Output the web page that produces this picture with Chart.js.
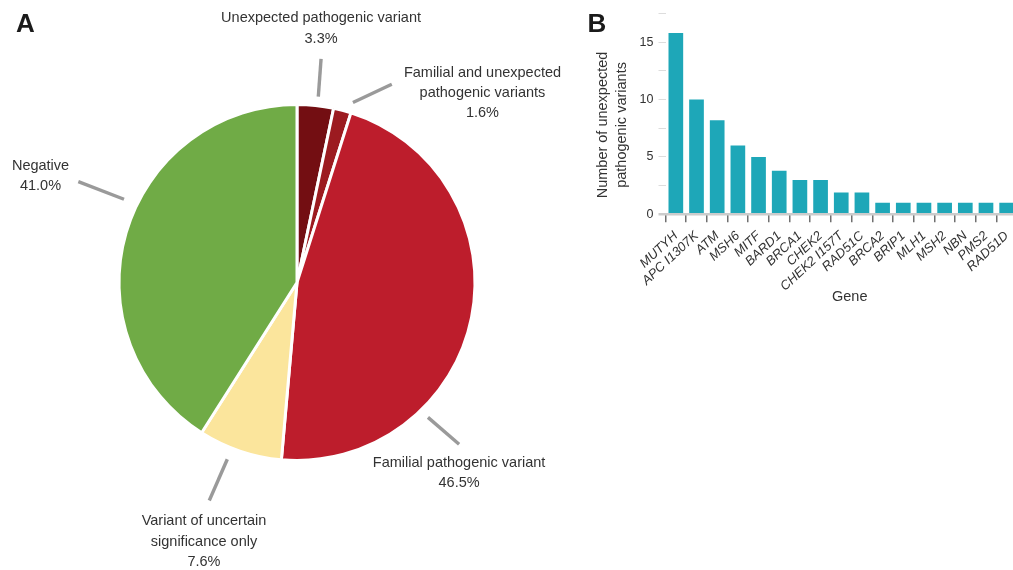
<!DOCTYPE html>
<html>
<head>
<meta charset="utf-8">
<script src="https://cdn.jsdelivr.net/npm/chart.js@4.4.1/dist/chart.umd.min.js"></script>
<style>
  html, body { margin: 0; padding: 0; background: #fff; overflow: hidden; width: 1013px; height: 570px; }
  .panel-letter { position: absolute; font: bold 26px 'Liberation Sans', Arial, sans-serif; color: #1a1a1a; line-height: 1; }
  #pieBox { position: absolute; left: 0; top: 0; width: 594px; height: 570px; }
  #barBox { position: absolute; left: 580px; top: 0; width: 450px; height: 320px; }
</style>
</head>
<body>
<div id="pieBox"><canvas id="pie"></canvas></div>
<div id="barBox"><canvas id="bar"></canvas></div>
<div class="panel-letter" style="left:16px;top:9.5px">A</div>
<div class="panel-letter" style="left:587.5px;top:9.5px">B</div>
<script>
// ---- Panel A: outcome categories (percent of cases) ----
const outcomeNames = [
  'Unexpected pathogenic variant',
  'Familial and unexpected pathogenic variants',
  'Familial pathogenic variant',
  'Variant of uncertain significance only',
  'Negative'
];
const outcomePercent = [3.3, 1.6, 46.5, 7.6, 41.0];
const outcomeLabelLines = [
  ['Unexpected pathogenic variant'],
  ['Familial and unexpected', 'pathogenic variants'],
  ['Familial pathogenic variant'],
  ['Variant of uncertain', 'significance only'],
  ['Negative']
];
const outcomeColors = ['#730e12', '#9c1b20', '#bd1d2c', '#fbe59c', '#70ab46'];

// ---- Panel B: unexpected pathogenic variants per gene ----
const genes = ['MUTYH', 'APC I1307K', 'ATM', 'MSH6', 'MITF', 'BARD1', 'BRCA1', 'CHEK2',
  'CHEK2 I157T', 'RAD51C', 'BRCA2', 'BRIP1', 'MLH1', 'MSH2', 'NBN', 'PMS2', 'RAD51D'];
const geneCounts = [15.8, 10, 8.2, 6, 5, 3.8, 3, 3, 1.9, 1.9, 1, 1, 1, 1, 1, 1, 1];
const yTicksLabelled = [0, 5, 10, 15];
const yTitleLines = ['Number of unexpected', 'pathogenic variants'];
const xTitle = 'Gene';

const FONT = "'Liberation Sans', Arial, Helvetica, sans-serif";
const TEXT = '#333333';

// Callout placement per slice: leader angle shift from the slice middle (deg),
// gaps beyond the rim, and text offset from the leader's outer end.
const calloutLayout = [
  { shift0: 0.6,  gap0: 9,    shift1: 0.2,  gap1: 47,   dx: 0,     dy: -40.3 },
  { shift0: 2.5,  gap0: 10.5, shift1: 10.8, gap1: 41.7, dx: 90.7,  dy: -11.3 },
  { shift0: 34.5, gap0: 10,   shift1: 33.6, gap1: 51,   dx: 0,     dy: 18.4 },
  { shift0: 2.8,  gap0: 12,   shift1: 3.2,  gap1: 57,   dx: -5.3,  dy: 20.8 },
  { shift0: 9.5,  gap0: 14,   shift1: 8.55, gap1: 62.8, dx: -37.8, dy: -15.7 }
];

const calloutPlugin = {
  id: 'callouts',
  afterDatasetsDraw(chart) {
    const ctx = chart.ctx;
    const meta = chart.getDatasetMeta(0);
    const values = chart.data.datasets[0].data;
    meta.data.forEach((arc, i) => {
      const p = arc.getProps(['x', 'y', 'startAngle', 'endAngle', 'outerRadius'], true);
      const mid = (p.startAngle + p.endAngle) / 2;
      const L = calloutLayout[i];
      const polar = (shift, gap) => {
        const a = mid + shift * Math.PI / 180;
        const r = p.outerRadius + gap;
        return [p.x + r * Math.cos(a), p.y + r * Math.sin(a)];
      };
      const [x0, y0] = polar(L.shift0, L.gap0);
      const [x1, y1] = polar(L.shift1, L.gap1);
      ctx.save();
      ctx.strokeStyle = '#9a9a9a';
      ctx.lineWidth = 3.4;
      ctx.lineCap = 'butt';
      ctx.beginPath();
      ctx.moveTo(x0, y0);
      ctx.lineTo(x1, y1);
      ctx.stroke();
      const lines = outcomeLabelLines[i].concat([values[i].toFixed(1) + '%']);
      ctx.fillStyle = TEXT;
      ctx.font = '14.5px ' + FONT;
      ctx.textAlign = 'center';
      ctx.textBaseline = 'middle';
      lines.forEach((t, k) => ctx.fillText(t, x1 + L.dx, y1 + L.dy + k * 20.2));
      ctx.restore();
    });
  }
};

new Chart(document.getElementById('pie'), {
  type: 'pie',
  data: {
    labels: outcomeNames,
    datasets: [{
      data: outcomePercent,
      backgroundColor: outcomeColors,
      borderColor: '#ffffff',
      borderWidth: 3,
      radius: 178
    }]
  },
  options: {
    animation: false,
    responsive: true,
    maintainAspectRatio: false,
    layout: { padding: { top: 0, bottom: 5, left: 0, right: 0 } },
    plugins: { legend: { display: false }, tooltip: { enabled: false } }
  },
  plugins: [calloutPlugin]
});

const axisTitlePlugin = {
  id: 'axisTitles',
  afterDraw(chart) {
    const ctx = chart.ctx;
    const a = chart.chartArea;
    ctx.save();
    ctx.fillStyle = TEXT;
    ctx.font = '14.5px ' + FONT;
    ctx.textAlign = 'center';
    ctx.textBaseline = 'middle';
    const cy = (a.top + a.bottom) / 2 + 11;
    [a.left - 62.2, a.left - 43.8].forEach((x, k) => {
      ctx.save();
      ctx.translate(x, cy);
      ctx.rotate(-Math.PI / 2);
      ctx.fillText(yTitleLines[k], 0, 0);
      ctx.restore();
    });
    ctx.fillText(xTitle, (a.left + a.right) / 2 + 8.5, a.bottom + 82.5);
    ctx.restore();
  }
};

new Chart(document.getElementById('bar'), {
  type: 'bar',
  data: {
    labels: genes,
    datasets: [{
      data: geneCounts,
      backgroundColor: '#1ea7b8',
      categoryPercentage: 1,
      barPercentage: 0.71
    }]
  },
  options: {
    animation: false,
    responsive: true,
    maintainAspectRatio: false,
    layout: { padding: { left: 0, top: 13.6, right: 13, bottom: 0 } },
    plugins: { legend: { display: false }, tooltip: { enabled: false } },
    scales: {
      x: {
        border: { display: false },
        grid: { drawOnChartArea: false, tickLength: 8, tickColor: '#707070', lineWidth: 1.5 },
        ticks: {
          autoSkip: false, minRotation: 43, maxRotation: 43, padding: 6,
          color: TEXT, font: { family: FONT, size: 13, style: 'italic' }
        },
        afterFit(s) { s.height = 105.7; }
      },
      y: {
        min: 0, max: 17.5,
        border: { display: false },
        grid: {
          color: c => (c.tick && c.tick.value === 0) ? '#cccccc' : 'transparent',
          tickColor: c => (c.tick && c.tick.value === 0) ? '#cccccc' : '#dddddd',
          lineWidth: c => (c.tick && c.tick.value === 0) ? 2.5 : 1,
          tickLength: 7
        },
        ticks: {
          stepSize: 2.5, padding: 5, color: TEXT,
          font: { family: FONT, size: 12.5 },
          callback: v => yTicksLabelled.includes(v) ? String(v) : ''
        },
        afterFit(s) { s.width = 85.5; }
      }
    }
  },
  plugins: [axisTitlePlugin]
});
</script>
</body>
</html>
